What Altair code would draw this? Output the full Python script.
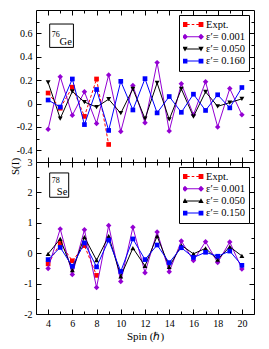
import altair as alt
import pandas as pd

# ---------------- data ----------------
spins = list(range(4, 21))

ge_labels = ["Expt.", "ε′= 0.001", "ε′= 0.050", "ε′= 0.160"]
ge_expt_spins = [4, 5, 6, 7, 8, 9]
ge_expt = [0.09, -0.04, 0.14, -0.11, 0.21, -0.35]
ge_e001 = [-0.22, 0.23, -0.10, 0.10, -0.17, 0.245, -0.24, 0.155, -0.165, 0.35, -0.235, 0.17, -0.096, 0.187, -0.20, 0.128, -0.096]
ge_e050 = [0.18, -0.128, 0.104, 0.013, -0.03, 0.037, -0.083, 0.125, -0.13, 0.176, -0.136, 0.125, -0.112, 0.10, -0.024, 0.008, 0.04]
ge_e160 = [0.03, -0.03, 0.21, -0.18, 0.12, -0.23, 0.19, -0.055, 0.213, -0.08, 0.06, -0.075, 0.08, -0.059, 0.075, -0.037, 0.137]

se_labels = ["Expt.", "ε′= 0.001", "ε′= 0.050", "ε′= 0.150"]
se_expt_spins = [4, 5, 6, 7, 8]
se_expt = [-0.35, 0.32, -0.25, 0.25, -0.73]
se_e001 = [-0.50, 0.80, -0.70, 0.77, -1.13, 0.91, -0.93, 0.85, -0.64, 0.70, -0.61, 0.40, -0.24, 0.38, -0.31, 0.37, -0.52]
se_e050 = [-0.02, 0.47, -0.56, 0.53, -0.23, 0.56, -0.76, 0.17, -0.42, 0.56, -0.45, 0.26, -0.02, 0.16, -0.21, 0.21, -0.09]
se_e150 = [-0.21, 0.19, -0.43, 0.34, -0.45, 0.43, -0.60, 0.47, -0.21, 0.27, -0.31, 0.18, -0.14, 0.03, -0.10, 0.07, -0.40]

x_major = [4, 6, 8, 10, 12, 14, 16, 18, 20]
x_minor = [5, 7, 9, 11, 13, 15, 17, 19]
ge_y_major = [-0.4, -0.2, 0, 0.2, 0.4, 0.6]
ge_y_minor = [-0.3, -0.1, 0.1, 0.3, 0.5, 0.7]
se_y_major = [-2, -1, 0, 1, 2, 3]
se_y_minor = [-1.5, -0.5, 0.5, 1.5, 2.5]

# annotation (nucleus label) in data units
ge_box = [4.13, 6.09, 0.68, 0.48]
ge_texts = [("76", 4.3, 0.585, 8), ("Ge", 4.95, 0.525, 10.5)]
se_box = [4.13, 5.70, 2.64, 1.84]
se_texts = [("78", 4.3, 2.38, 8), ("Se", 4.72, 2.02, 10.5)]

# ---------------- style ----------------
colors = ["#ff0000", "#9400d3", "#000000", "#0000ff"]
sizes = [22, 30, 24, 22]
FONT = "Liberation Serif"
W, H = 218, 152


def sq(cx, h):
    return f"M{cx-h},{-h}H{cx+h}V{h}H{cx-h}Z"


def dia(cx, h):
    return f"M{cx},{-h}L{cx+h},0L{cx},{h}L{cx-h},0Z"


def tri_down(cx, h):
    return f"M{cx-h},{-h*0.8}H{cx+h}L{cx},{h}Z"


def tri_up(cx, h):
    return f"M{cx-h},{h*0.8}L{cx},{-h}L{cx+h},{h*0.8}Z"


LINE = "M-0.8,-0.05H0.8V0.05H-0.8Z"
DASH = "M-0.6,-0.05H-0.33V0.05H-0.6ZM-0.13,-0.05H0.13V0.05H-0.13ZM0.33,-0.05H0.6V0.05H0.33Z"
ge_paths = [DASH + sq(-0.8, 0.24) + sq(0.8, 0.24),
            LINE + dia(-0.8, 0.3) + dia(0.8, 0.3),
            LINE + tri_down(-0.8, 0.27) + tri_down(0.8, 0.27),
            LINE + sq(-0.8, 0.24) + sq(0.8, 0.24)]
se_paths = [DASH + sq(-0.8, 0.24) + sq(0.8, 0.24),
            LINE + dia(-0.8, 0.3) + dia(0.8, 0.3),
            LINE + tri_up(-0.8, 0.27) + tri_up(0.8, 0.27),
            LINE + sq(-0.8, 0.24) + sq(0.8, 0.24)]


def long_df(labels, expt_spins, expt, e1, e2, e3):
    rows = [dict(spin=s, value=v, series=labels[0]) for s, v in zip(expt_spins, expt)]
    for lab, vals in zip(labels[1:], [e1, e2, e3]):
        rows += [dict(spin=s, value=v, series=lab) for s, v in zip(spins, vals)]
    return pd.DataFrame(rows)


def tick_axis(orient, values, size, offset):
    return alt.Axis(orient=orient, values=values, ticks=True, tickSize=size, offset=offset,
                    labels=False, domain=False, grid=False, title=None,
                    tickColor="black", tickWidth=1)


def panel(df, labels, shapes, legend_paths, ydom, ymaj, ymin, xlabels, ytitle, box, texts):
    xs = alt.Scale(domain=[3, 21], nice=False, zero=False)
    ys = alt.Scale(domain=ydom, nice=False, zero=False)

    def XE(field="spin:Q", axis=None):
        return alt.X(field, scale=xs, axis=axis)

    def YE(field="value:Q", axis=None):
        return alt.Y(field, scale=ys, axis=axis)

    layers = []
    # annotation box + text
    bdf = pd.DataFrame({"x": [box[0]], "x2": [box[1]], "y": [box[2]], "y2": [box[3]]})
    layers.append(alt.Chart(bdf).mark_rect(fill="white", stroke="black", strokeWidth=1).encode(
        x=XE("x:Q"), x2="x2:Q", y=YE("y:Q"), y2="y2:Q"))
    for t, tx, ty, fs in texts:
        tdf = pd.DataFrame({"x": [tx], "y": [ty], "t": [t]})
        layers.append(alt.Chart(tdf).mark_text(align="left", baseline="middle", font=FONT,
                                               fontSize=fs, fill="black").encode(
            x=XE("x:Q"), y=YE("y:Q"), text="t:N"))

    # series lines and points
    for i, lab in enumerate(labels):
        base = alt.Chart(df).transform_filter(alt.datum.series == lab)
        lkw = dict(color=colors[i], strokeWidth=1)
        if i == 0:
            lkw["strokeDash"] = [3, 2]
        layers.append(base.mark_line(**lkw).encode(x=XE(), y=YE()))
        layers.append(base.mark_point(filled=True, opacity=1, shape=shapes[i], size=sizes[i],
                                      color=colors[i]).encode(x=XE(), y=YE()))

    # legend layer (no marks drawn)
    leg = alt.Legend(title=None, orient="top-right", offset=5, fillColor="white", strokeColor="black",
                     padding=4, symbolSize=400, symbolStrokeWidth=0, labelFont=FONT, labelFontSize=10.5,
                     labelColor="black", rowPadding=1.2, labelOffset=3, clipHeight=11)
    layers.append(alt.Chart(df).transform_filter("false").mark_point(filled=True, opacity=1).encode(
        x=XE(), y=YE(),
        color=alt.Color("series:N", scale=alt.Scale(domain=labels, range=colors), legend=leg),
        shape=alt.Shape("series:N", scale=alt.Scale(domain=labels, range=legend_paths), legend=leg)))

    # axes layers
    def axis_layer(xaxis, yaxis):
        return alt.Chart(df).mark_point(opacity=0).encode(x=XE(axis=xaxis), y=YE(axis=yaxis))

    ylab_kw = dict(orient="left", values=ymaj, ticks=False, tickSize=0, domain=False, grid=False,
                   labelPadding=4, labelFont=FONT, labelFontSize=10, labelColor="black",
                   labelExpr="'' + datum.value", labelOverlap=False)
    if ytitle:
        yl = alt.Axis(title=ytitle, titleFont=FONT, titleFontSize=11, titleFontWeight="normal",
                      titleColor="black", titleY=4, titlePadding=3, **ylab_kw)
    else:
        yl = alt.Axis(title=None, **ylab_kw)
    if xlabels:
        xl = alt.Axis(orient="bottom", values=x_major, ticks=False, tickSize=0, domain=False, grid=False,
                      labelPadding=4, labelFont=FONT, labelFontSize=10, labelColor="black",
                      labelOverlap=False, labelFlush=False, title="Spin (ℏ)", titleFont=FONT,
                      titleFontSize=11, titleFontWeight="normal", titleColor="black", titlePadding=2)
    else:
        xl = None
    layers.append(axis_layer(xl, yl))
    layers.append(axis_layer(tick_axis("top", x_major, 5, -H), tick_axis("right", ymaj, 5, -W)))
    layers.append(axis_layer(tick_axis("bottom", x_major, 5, -H), tick_axis("left", ymaj, 5, -W)))
    layers.append(axis_layer(tick_axis("top", x_minor, 3, -H), tick_axis("right", ymin, 3, -W)))
    layers.append(axis_layer(tick_axis("bottom", x_minor, 3, -H), tick_axis("left", ymin, 3, -W)))

    return alt.layer(*layers).resolve_axis(x="independent", y="independent").properties(width=W, height=H)


ge_df = long_df(ge_labels, ge_expt_spins, ge_expt, ge_e001, ge_e050, ge_e160)
se_df = long_df(se_labels, se_expt_spins, se_expt, se_e001, se_e050, se_e150)

top = panel(ge_df, ge_labels, ["square", "diamond", "triangle-down", "square"], ge_paths,
            [-0.5, 0.8], ge_y_major, ge_y_minor, False, None, ge_box, ge_texts)
bottom = panel(se_df, se_labels, ["square", "diamond", "triangle-up", "square"], se_paths,
               [-2, 3], se_y_major, se_y_minor, True, "S(I)", se_box, se_texts)

chart = alt.vconcat(top, bottom, spacing=0, bounds="flush").resolve_scale(
    color="independent", shape="independent").properties(padding=1).configure_view(
    stroke="black", strokeWidth=1)

chart.save("out.html", embed_options={"renderer": "svg", "actions": False})
